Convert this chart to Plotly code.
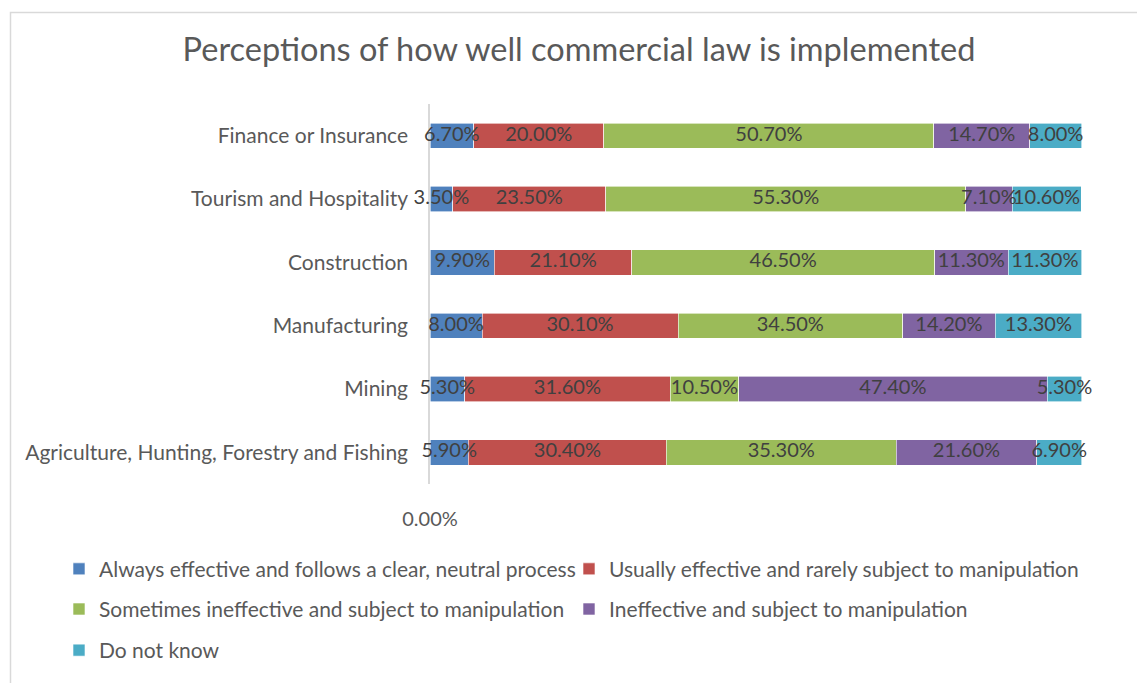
import plotly.graph_objects as go

# Sectors, listed bottom to top as they appear on the category axis
sectors = [
    "Agriculture, Hunting, Forestry and Fishing",
    "Mining",
    "Manufacturing",
    "Construction",
    "Tourism and Hospitality",
    "Finance or Insurance",
]

# Share of respondents per answer (fractions), same order as sectors
always_effective = [0.059, 0.053, 0.080, 0.099, 0.035, 0.067]
usually_effective = [0.304, 0.316, 0.301, 0.211, 0.235, 0.200]
sometimes_ineffective = [0.353, 0.105, 0.345, 0.465, 0.553, 0.507]
ineffective = [0.216, 0.474, 0.142, 0.113, 0.071, 0.147]
do_not_know = [0.069, 0.053, 0.133, 0.113, 0.106, 0.080]

series = [
    ("Always effective and follows a clear, neutral process", always_effective, "#4F81BD"),
    ("Usually effective and rarely subject to manipulation", usually_effective, "#C0504D"),
    ("Sometimes ineffective and subject to manipulation", sometimes_ineffective, "#9BBB59"),
    ("Ineffective and subject to manipulation", ineffective, "#8064A2"),
    ("Do not know", do_not_know, "#4BACC6"),
]

FONT = "Lato"
TEXT_GREY = "#595959"
LABEL_GREY = "#404040"

# plot area geometry in pixels (used to place legends/border in paper units)
W, H = 1137, 683
L, R, T, B = 430, 55, 104, 191
pw, ph = W - L - R, H - T - B


def px_x(x):
    return (x - L) / pw


def px_y(y):
    return (H - B - y) / ph


fig = go.Figure()
legend_names = ["legend", "legend2", "legend3", "legend4", "legend5"]
for (name, vals, color), lg in zip(series, legend_names):
    fig.add_trace(go.Bar(
        name=name,
        y=sectors,
        x=vals,
        orientation="h",
        marker=dict(color=color, line=dict(color="white", width=0.6)),
        showlegend=True,
        legend=lg,
        hovertemplate="%{y}: %{x:.2%}<extra>" + name + "</extra>",
    ))

# value labels centred on each segment, drawn above all bars
label_x, label_y, label_text = [], [], []
running = [0.0] * len(sectors)
for _, vals, _ in series:
    for i, v in enumerate(vals):
        label_x.append(running[i] + v / 2)
        label_y.append(sectors[i])
        label_text.append(f"{v:.2%}")
        running[i] += v

fig.add_trace(go.Scatter(
    x=label_x, y=label_y, text=label_text,
    mode="text", textposition="middle center",
    textfont=dict(family=FONT, size=20, color=LABEL_GREY),
    cliponaxis=False, showlegend=False, hoverinfo="skip",
))

# legend entries laid out in two columns, three rows (text x, row centre y)
legend_pos = [(99, 579), (609, 579), (99, 620), (609, 620), (99, 662)]
legend_layout = {}
for lg, (tx, cy) in zip(legend_names, legend_pos):
    legend_layout[lg] = dict(
        x=px_x(tx - 40), y=px_y(cy), xanchor="left", yanchor="middle",
        orientation="h", bgcolor="rgba(0,0,0,0)", borderwidth=0,
        font=dict(family=FONT, size=21, color=TEXT_GREY),
        itemclick=False, itemdoubleclick=False, visible=True,
    )

fig.update_layout(
    width=W, height=H,
    margin=dict(l=L, r=R, t=T, b=B),
    paper_bgcolor="white",
    plot_bgcolor="white",
    barmode="stack",
    bargap=0.6,
    showlegend=True,
    title=dict(
        text="Perceptions of how well commercial law is implemented",
        xref="container", x=579 / W, xanchor="center",
        yref="container", y=1 - 50 / H, yanchor="middle",
        font=dict(family=FONT, size=32.5, color=TEXT_GREY),
    ),
    xaxis=dict(
        range=[0, 1.0015],
        tickvals=[0],
        ticktext=["0.00%"],
        showgrid=False,
        zeroline=False,
        showline=False,
        ticks="",
        ticklabelstandoff=21,
        tickfont=dict(family=FONT, size=20, color=TEXT_GREY),
        fixedrange=True,
    ),
    yaxis=dict(
        categoryorder="array",
        categoryarray=sectors,
        showgrid=False,
        zeroline=False,
        showline=True,
        linecolor="#D9D9D9",
        linewidth=1.5,
        layer="below traces",
        ticks="",
        ticklabelstandoff=16,
        tickfont=dict(family=FONT, size=21, color=TEXT_GREY),
        fixedrange=True,
    ),
    shapes=[dict(
        type="rect", xref="paper", yref="paper",
        x0=px_x(10.5), x1=px_x(1180), y0=px_y(10.5), y1=px_y(720),
        line=dict(color="#D9D9D9", width=1.5), fillcolor="rgba(0,0,0,0)",
        layer="below",
    )],
    **legend_layout,
)

fig.write_html("out.html")
